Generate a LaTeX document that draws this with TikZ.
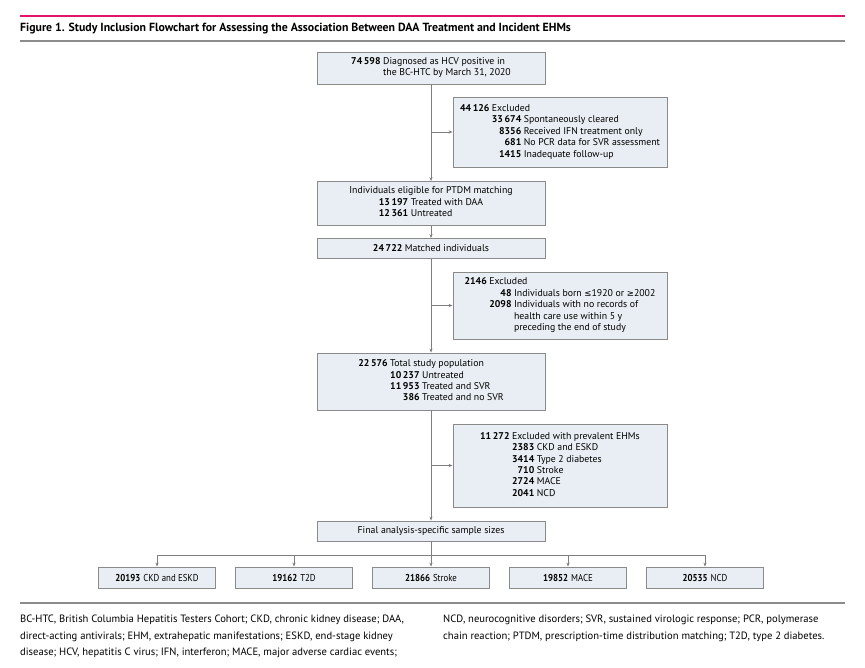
\documentclass[tikz,border=0pt]{standalone}
\usepackage{fontspec}
\setmainfont{PT Sans}
\newfontfamily\condfont[FakeStretch=0.88]{PT Sans}
\newfontfamily\symfnt{DejaVu Sans}
\usetikzlibrary{arrows.meta}
\definecolor{boxfill}{HTML}{E8EEF3}
\definecolor{boxline}{HTML}{8A8A8A}
\definecolor{conn}{HTML}{7F7F7F}
\definecolor{jpink}{HTML}{E2156B}
\definecolor{rulegray}{HTML}{8C8C8C}
\tikzset{
  flowbox/.style={draw=boxline, fill=boxfill, line width=0.8pt, inner sep=0pt,
    align=center, font=\fontsize{9.8}{11.4}\selectfont},
  mainbox/.style={flowbox, minimum width=228pt},
  exclbox/.style={flowbox, minimum width=214pt},
  leafbox/.style={flowbox, minimum width=117pt, minimum height=21pt, font=\condfont\fontsize{10}{12}\selectfont},
  conline/.style={draw=conn, line width=0.8pt},
  arr/.style={conline, -{Stealth[length=4pt,width=3.2pt]}},
  fntext/.style={anchor=base west, inner sep=0pt, font=\fontsize{10.6}{12}\selectfont}
}
\newcommand{\nb}[1]{\textbf{#1}}
\begin{document}
\begin{tikzpicture}[x=1pt,y=-1pt]
\useasboundingbox (0,0) rectangle (865,668);
\fill[white] (0,0) rectangle (865,668);
% header
\draw[jpink, line width=2pt] (20,16) -- (845,16);
\node[anchor=base west, inner sep=0pt, font=\fontsize{11.8}{13}\selectfont\bfseries] (title) at (20,32)
  {Figure 1. Study Inclusion Flowchart for Assessing the Association Between DAA Treatment and Incident EHMs};
\draw[rulegray, line width=1.4pt] (20,41) -- (845,41);

% main column
\node[mainbox, minimum height=32pt] (b1) at (431,68)
  {\begin{tabular}{@{}r@{\hspace{2.5pt}}l@{}}
   \nb{74\,598} & Diagnosed as HCV positive in\\
   & the BC-HTC by March 31, 2020
   \end{tabular}};
\node[exclbox, minimum height=70pt] (e1) at (560,132)
  {\begin{tabular}{@{}r@{\hspace{2.5pt}}r@{\hspace{2.5pt}}l@{}}
   \nb{44\,126} & \multicolumn{2}{@{}l@{}}{Excluded}\\
   & \nb{33\,674} & Spontaneously cleared\\
   & \nb{8356} & Received IFN treatment only\\
   & \nb{681} & No PCR data for SVR assessment\\
   & \nb{1415} & Inadequate follow-up
   \end{tabular}};
\node[mainbox, minimum height=44pt] (b2) at (431,203.5)
  {Individuals eligible for PTDM matching\\
   \begin{tabular}[t]{@{}r@{\hspace{2.5pt}}l@{}}
   \nb{13\,197} & Treated with DAA\\
   \nb{12\,361} & Untreated
   \end{tabular}};
\node[mainbox, minimum height=20pt] (b3) at (431,248.5)
  {\nb{24\,722}\hspace{2.5pt}Matched individuals};
\node[exclbox, minimum height=67pt] (e2) at (560,305.5)
  {\begin{tabular}{@{}r@{\hspace{2.5pt}}r@{\hspace{2.5pt}}l@{}}
   \nb{2146} & \multicolumn{2}{@{}l@{}}{Excluded}\\
   & \nb{48} & Individuals born {\symfnt\fontsize{8.6}{11}\selectfont ≤}1920 or {\symfnt\fontsize{8.6}{11}\selectfont ≥}2002\\
   & \nb{2098} & Individuals with no records of\\
   & & health care use within 5 y\\
   & & preceding the end of study
   \end{tabular}};
\node[mainbox, minimum height=57pt] (b4) at (431,381.5)
  {\begin{tabular}{@{}r@{\hspace{2.5pt}}r@{\hspace{2.5pt}}l@{}}
   \nb{22\,576} & \multicolumn{2}{@{}l@{}}{Total study population}\\
   & \nb{10\,237} & Untreated\\
   & \nb{11\,953} & Treated and SVR\\
   & \nb{386} & Treated and no SVR
   \end{tabular}};
\node[exclbox, minimum height=83pt] (e3) at (560,465.5)
  {\begin{tabular}{@{}r@{\hspace{2.5pt}}r@{\hspace{2.5pt}}l@{}}
   \nb{11\,272} & \multicolumn{2}{@{}l@{}}{Excluded with prevalent EHMs}\\
   & \nb{2383} & CKD and ESKD\\
   & \nb{3414} & Type 2 diabetes\\
   & \nb{710} & Stroke\\
   & \nb{2724} & MACE\\
   & \nb{2041} & NCD
   \end{tabular}};
\node[mainbox, minimum height=20pt] (fin) at (431,531)
  {Final analysis-specific sample sizes};

% leaves
\node[leafbox] (l1) at (157,577.5) {\nb{20193}\hspace{3pt}CKD and ESKD};
\node[leafbox] (l2) at (294,577.5) {\nb{19162}\hspace{3pt}T2D};
\node[leafbox] (l3) at (431,577.5) {\nb{21866}\hspace{3pt}Stroke};
\node[leafbox] (l4) at (568,577.5) {\nb{19852}\hspace{3pt}MACE};
\node[leafbox] (l5) at (705,577.5) {\nb{20535}\hspace{3pt}NCD};

% connectors
\draw[arr] (b1.south) -- (b2.north);
\draw[arr] (b1.south |- e1.west) -- (e1.west);
\draw[arr] (b2.south) -- (b3.north);
\draw[arr] (b3.south) -- (b4.north);
\draw[arr] (b3.south |- e2.west) -- (e2.west);
\draw[arr] (b4.south) -- (fin.north);
\draw[arr] (b4.south |- e3.west) -- (e3.west);
\coordinate (bus) at (431,555);
\draw[conline] (fin.south) -- (bus);
\draw[conline] (l1.north |- bus) -- (l5.north |- bus);
\foreach \l in {l1,l2,l3,l4,l5} \draw[arr] (\l.north |- bus) -- (\l.north);

% footer
\draw[rulegray, line width=1.4pt] (20,603) -- (845,603);
\node[fntext] (f1) at (20,622) {BC-HTC, British Columbia Hepatitis Testers Cohort; CKD, chronic kidney disease; DAA,};
\node[fntext] (f2) at (20,639) {direct-acting antivirals; EHM, extrahepatic manifestations; ESKD, end-stage kidney};
\node[fntext] (f3) at (20,655.5) {disease; HCV, hepatitis C virus; IFN, interferon; MACE, major adverse cardiac events;};
\node[fntext] (f4) at (443,622) {NCD, neurocognitive disorders; SVR, sustained virologic response; PCR, polymerase};
\node[fntext] (f5) at (443,639) {chain reaction; PTDM, prescription-time distribution matching; T2D, type 2 diabetes.};
\end{tikzpicture}
\end{document}
